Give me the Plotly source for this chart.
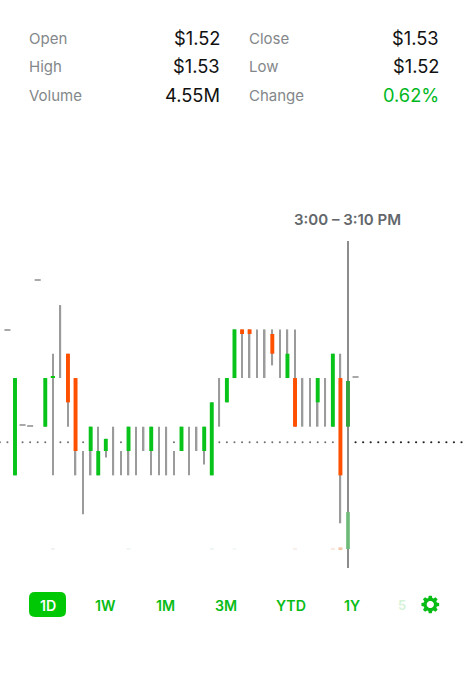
import math
import plotly.graph_objects as go

W, H = 469, 680
GREEN = "#00c805"
ORANGE = "#ff5000"
WICK = "#9b9b9b"

# candle data, one entry per 10-minute interval
candle_idx = list(range(0, 45))
opens  = [1.50,0,0,0,1.52,1.54,1.54,1.55,1.54,1.51,1.51,1.50,1.51,1.50,1.50,1.51,1.50,1.51,1.51,1.50,1.50,1.50,1.51,1.50,1.51,1.51,1.50,1.52,1.53,1.54,1.56,1.56,1.54,1.54,1.5581,1.54,1.54,1.54,1.52,1.52,1.53,1.52,1.52,1.54,1.52]
closes = [1.54,0,0,0,1.54,1.54,1.54,1.53,1.51,1.51,1.52,1.51,1.515,1.50,1.50,1.52,1.50,1.51,1.52,1.50,1.50,1.50,1.52,1.50,1.51,1.52,1.53,1.52,1.54,1.56,1.5581,1.5581,1.54,1.54,1.55,1.54,1.55,1.52,1.52,1.52,1.54,1.52,1.55,1.50,1.5388]
lows   = [1.50,0,0,0,1.52,1.50,1.54,1.52,1.50,1.484,1.50,1.50,1.5073,1.50,1.50,1.50,1.50,1.51,1.50,1.50,1.50,1.50,1.51,1.50,1.51,1.5045,1.50,1.52,1.53,1.54,1.54,1.54,1.54,1.54,1.5452,1.54,1.54,1.52,1.52,1.52,1.52,1.52,1.52,1.4803,1.4619]
highs  = [1.54,0,0,0,1.54,1.55,1.57,1.55,1.54,1.51,1.52,1.52,1.515,1.52,1.51,1.52,1.52,1.52,1.52,1.52,1.52,1.51,1.52,1.52,1.52,1.52,1.53,1.54,1.54,1.56,1.56,1.56,1.56,1.56,1.56,1.56,1.56,1.56,1.54,1.54,1.54,1.54,1.55,1.55,1.5963]

# isolated flat prints
flat_idx = [-1, 1, 2, 3, 45]
flat_price = [1.5597, 1.5208, 1.5203, 1.5803, 1.5405]
tick_idx = [5]
tick_price = [1.5404]

# volume marks along the bottom of the chart
vol_idx = [5, 15, 26, 29, 37, 42, 43, 44]
vol_size = [0.0005, 0.0005, 0.0005, 0.0004, 0.0005, 0.0005, 0.0007, 0.0152]
vol_colors = ["#f0f0f0", "#eef6ee", "#eef6ee", "#f2f8f2", "#f8eee8", "#f6e6da", "#f4bc98", "#6cc078"]
VOL_BASE = 1.4697

reference_price = 1.5136
dot_idx_all = list(range(-2, 60))

# header table
rows_left = [("Open", "$1.52"), ("High", "$1.53"), ("Volume", "4.55M")]
rows_right = [("Close", "$1.53"), ("Low", "$1.52"), ("Change", "0.62%")]
row_y = [38, 66.5, 95.5]
ranges = ["1W", "1M", "3M", "YTD", "1Y"]
range_x = [105.5, 165, 226, 290.5, 352]

XR = [-1.982, 59.99]
YR = [1.41589, 1.69538]

def px(x): return x / W
def py(y): return 1 - y / H

fig = go.Figure()

# wicks
wick_x = [i for i in candle_idx if highs[i] > lows[i] and highs[i] > 0]
fig.add_trace(go.Bar(
    x=wick_x, base=[lows[i] for i in wick_x], y=[highs[i] - lows[i] for i in wick_x],
    width=[0.22 if i == 44 else 0.2 for i in wick_x],
    marker=dict(color=["#8c8c8c" if i == 44 else WICK for i in wick_x], line_width=0), hoverinfo="skip"))

# bodies
body_x = [i for i in candle_idx if opens[i] != closes[i]]
fig.add_trace(go.Bar(
    x=body_x, base=[min(opens[i], closes[i]) for i in body_x],
    y=[abs(opens[i] - closes[i]) for i in body_x], width=0.52,
    marker=dict(color=["#33a53f" if i == 44 else ("#08c41a" if closes[i] > opens[i] else ORANGE) for i in body_x], line_width=0),
    hoverinfo="skip"))

# flat prints
fig.add_trace(go.Bar(x=flat_idx, base=[p - 0.0003 for p in flat_price], y=[0.0006] * len(flat_idx),
                     width=0.8, marker=dict(color="#a8a8a8", line_width=0), hoverinfo="skip"))
fig.add_trace(go.Bar(x=tick_idx, base=[p - 0.0003 for p in tick_price], y=[0.0006], width=0.55,
                     marker=dict(color=GREEN, line_width=0), hoverinfo="skip"))

# volume
fig.add_trace(go.Bar(x=vol_idx, base=[VOL_BASE] * len(vol_idx), y=vol_size, width=0.52,
                     marker=dict(color=vol_colors, line_width=0), opacity=0.85, hoverinfo="skip"))

# dotted reference line
def blocked(i):
    return 0 <= i < 45 and highs[i] >= reference_price >= lows[i] and highs[i] > 0
left_dots = [i for i in dot_idx_all if i <= 44 and not blocked(i)]
right_dots = [i for i in dot_idx_all if i > 44]
fig.add_trace(go.Scatter(x=left_dots, y=[reference_price] * len(left_dots), mode="markers",
                         marker=dict(size=2, color="#6e6e6e"), hoverinfo="skip"))
fig.add_trace(go.Scatter(x=right_dots, y=[reference_price] * len(right_dots), mode="markers",
                         marker=dict(size=2.2, color="#222222"), hoverinfo="skip"))

ann = []
def text(x, y, s, size, color, anchor="left", family="Inter", weight=400):
    shift = {"left": -2, "right": 2, "center": 0}[anchor]
    ann.append(dict(x=px(x), y=py(y), xref="paper", yref="paper", text=s, showarrow=False,
                    xanchor=anchor, yanchor="middle", xshift=shift,
                    font=dict(size=size, color=color, family=family, weight=weight)))

for rows, lx, rx in ((rows_left, 29, 220), (rows_right, 249, 439)):
    for (lab, val), y in zip(rows, row_y):
        text(lx, y, lab, 15, "#83878a")
        text(rx, y, val, 18.3, "#00b81e" if val.endswith("%") else "#111111", "right")

text(347.5, 220, "3:00 – 3:10 PM", 15, "#63676b", "center", weight=600)

for s, x in zip(ranges, range_x):
    text(x, 605, s, 14.2, "#08bc16", "center", weight=600)
text(29 + 18.5, 605, "1D", 14.2, "#ffffff", "center", weight=600)
text(402, 605, "5", 13, "#d4f3d7", "center", weight=600)

shapes = []
# 1D pill
x0, x1, y0, y1, r = 29, 66, 592, 617, 6
def pt(x, y): return f"{px(x):.5f},{py(y):.5f}"
pill = (f"M{pt(x0+r,y0)} L{pt(x1-r,y0)} Q{pt(x1,y0)} {pt(x1,y0+r)} L{pt(x1,y1-r)} Q{pt(x1,y1)} {pt(x1-r,y1)} "
        f"L{pt(x0+r,y1)} Q{pt(x0,y1)} {pt(x0,y1-r)} L{pt(x0,y0+r)} Q{pt(x0,y0)} {pt(x0+r,y0)} Z")
shapes.append(dict(type="path", xref="paper", yref="paper", path=pill, fillcolor=GREEN, line_width=0, layer="below"))

# settings gear icon
cx, cy, ro, ri, hole = 430.3, 604.5, 9.0, 6.8, 3.6
gear = []
teeth = 8
for k in range(teeth):
    a = 2 * math.pi * k / teeth
    for da, rr in ((-0.30, ri), (-0.17, ro), (0.17, ro), (0.30, ri)):
        gear.append((cx + rr * math.cos(a + da), cy + rr * math.sin(a + da)))
d = "M" + " L".join(pt(x, y) for x, y in gear) + " Z "
hp = [(cx + hole * math.cos(2 * math.pi * k / 24), cy + hole * math.sin(2 * math.pi * k / 24)) for k in range(24)]
d += "M" + " L".join(pt(x, y) for x, y in hp) + " Z"
shapes.append(dict(type="path", xref="paper", yref="paper", path=d, fillcolor="#08bc16", line_width=0, fillrule="evenodd"))

fig.update_layout(
    width=W, height=H, margin=dict(l=0, r=0, t=0, b=0), showlegend=False,
    barmode="overlay", paper_bgcolor="white", plot_bgcolor="white",
    xaxis=dict(range=XR, visible=False, fixedrange=True),
    yaxis=dict(range=YR, visible=False, fixedrange=True),
    annotations=ann, shapes=shapes,
)
fig.write_html("out.html", config={"displayModeBar": False},
               post_script="document.body.style.margin='0';")
